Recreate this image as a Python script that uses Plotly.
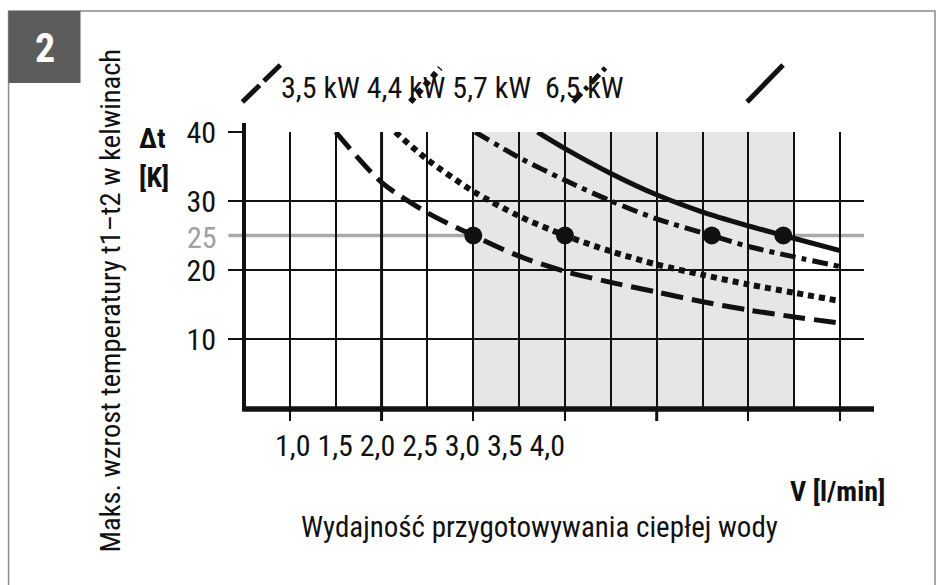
import plotly.graph_objects as go

# ---------------- data ----------------
v_35 = [1.5, 2.0, 2.5, 3.0, 3.5, 4.0, 4.5, 5.0, 5.5, 6.0, 6.5, 7.0]
dt_35 = [40, 32.7, 28.3, 25.0, 22.0, 19.8, 18.2, 16.8, 15.4, 14.2, 13.2, 12.3]

v_44 = [2.15, 2.5, 3.0, 3.5, 4.0, 4.5, 5.0, 5.5, 6.0, 6.5, 7.0]
dt_44 = [40, 36.0, 31.4, 27.8, 25.0, 22.7, 20.8, 19.3, 17.9, 16.7, 15.5]

v_57 = [3.02, 3.5, 4.0, 4.5, 5.0, 5.6, 6.0, 6.5, 7.0]
dt_57 = [40, 36.3, 33.0, 30.0, 27.4, 25.0, 23.4, 21.9, 20.5]

v_65 = [3.7, 4.0, 4.5, 5.0, 5.5, 6.0, 6.38, 7.0]
dt_65 = [40, 37.6, 34.0, 30.9, 28.4, 26.4, 25.0, 22.8]

v_dots = [3.0, 4.0, 5.6, 6.38]
dt_dots = [25, 25, 25, 25]

series_labels = ["3,5 kW", "4,4 kW", "5,7 kW", "6,5 kW"]
x_tick_labels = ["1,0", "1,5", "2,0", "2,5", "3,0", "3,5", "4,0"]
y_tick_vals = [10, 20, 30, 40]
ref_level = 25
shade_range = [3.0, 6.5]
thick_v = [2.0, 5.0]

# ---------------- layout geometry (pixels) ----------------
W, H = 939, 585
L, R, T, B = 243.6, 864.0, 132.0, 408.0


def px(x):
    return (x - L) / (R - L)


def py(y):
    return (B - y) / (B - T)


FONT = "Liberation Sans Narrow, Roboto Condensed, Liberation Sans, sans-serif"
BLACK = "#111111"

fig = go.Figure()

styles = [("22px,9px", 5), ("6px,5px", 6), ("16px,6px,5px,6px", 5), ("solid", 5)]
for (vx, vy), (st, lw), name in zip([(v_35, dt_35), (v_44, dt_44), (v_57, dt_57), (v_65, dt_65)],
                                   styles, series_labels):
    fig.add_trace(go.Scatter(x=vx, y=vy, mode="lines", name=name,
                             line=dict(color=BLACK, width=lw, dash=st,
                                       shape="spline", smoothing=0.8),
                             showlegend=False, hoverinfo="skip"))

fig.add_trace(go.Scatter(x=v_dots, y=dt_dots, mode="markers",
                         marker=dict(color=BLACK, size=18), showlegend=False,
                         hoverinfo="skip"))

shapes = []
shapes.append(dict(type="rect", xref="x", yref="y", x0=shade_range[0], x1=shade_range[1],
                   y0=0, y1=40, fillcolor="#e6e6e6", line=dict(width=0), layer="below"))
shapes.append(dict(type="line", xref="paper", yref="y", x0=px(228), x1=1.0,
                   y0=ref_level, y1=ref_level, line=dict(color="#a9a9a9", width=3.5),
                   layer="between"))
for v in thick_v:
    shapes.append(dict(type="line", xref="x", yref="paper", x0=v, x1=v,
                       y0=py(421), y1=1.0, line=dict(color=BLACK, width=3), layer="between"))
shapes.append(dict(type="line", xref="paper", yref="paper", x0=px(242), x1=px(874),
                   y0=py(409), y1=py(409), line=dict(color=BLACK, width=5.5)))
shapes.append(dict(type="line", xref="paper", yref="paper", x0=px(243.6), x1=px(243.6),
                   y0=py(411), y1=py(123), line=dict(color=BLACK, width=4)))
samples = [((242, 102), (280, 65), "24px,6px", 5),
           ((410, 102), (440, 68), "6px,5px", 6),
           ((573, 102), (608, 65), "12px,5px,4px,5px", 5),
           ((747, 102), (783, 65), "solid", 5)]
for (a, b, d, lw) in samples:
    shapes.append(dict(type="line", xref="paper", yref="paper", x0=px(a[0]), y0=py(a[1]),
                       x1=px(b[0]), y1=py(b[1]), line=dict(color=BLACK, width=lw, dash=d)))
shapes.append(dict(type="rect", xref="paper", yref="paper", x0=px(8), x1=px(935),
                   y0=py(600), y1=py(11), line=dict(color="#8a8a8a", width=1.5),
                   fillcolor="rgba(0,0,0,0)"))
shapes.append(dict(type="rect", xref="paper", yref="paper", x0=px(8), x1=px(80),
                   y0=py(83), y1=py(11), line=dict(width=0), fillcolor="#5c5c5c"))

ann = []


def text(x, y, s, size=28, color=BLACK, xanchor="center", bold=False, angle=0):
    if bold:
        s = "<b>" + s + "</b>"
    ann.append(dict(xref="paper", yref="paper", x=px(x), y=py(y), text=s, showarrow=False,
                    xanchor=xanchor, yanchor="middle", textangle=angle,
                    font=dict(family=FONT, size=size, color=color)))


text(44, 48, "2", size=40, color="white", bold=True)
text(110, 300, "Maks. wzrost temperatury t1\u2013t2 w kelwinach", size=28.5, angle=-90)
text(137, 138, "\u0394t", size=28, xanchor="left", bold=True)
text(137, 177, "[K]", size=28, xanchor="left", bold=True)
text(219, 237, "25", size=30, color="#a0a0a0", xanchor="right")
text(279, 88, " ".join(series_labels[:3]) + "  " + series_labels[3], size=30, xanchor="left")
text(273, 445, " ".join(x_tick_labels), size=30, xanchor="left")
text(887, 491, "V [l/min]", size=28, xanchor="right", bold=True)
text(539, 527, "Wydajno\u015b\u0107 przygotowywania ciep\u0142ej wody", size=29)

fig.update_layout(
    width=W, height=H,
    margin=dict(l=L, r=W - R, t=T, b=H - B, autoexpand=False),
    paper_bgcolor="white", plot_bgcolor="white",
    shapes=shapes, annotations=ann,
    xaxis=dict(range=[0.5, 7.26], tickvals=[1, 2, 3, 4, 5, 6, 7], showticklabels=False,
               ticks="outside", ticklen=12, tickwidth=1.5, tickcolor=BLACK,
               showgrid=True, gridcolor=BLACK, gridwidth=1.5,
               minor=dict(dtick=0.5, tick0=0, showgrid=True, gridcolor=BLACK, gridwidth=1.5),
               zeroline=False, showline=False, fixedrange=True),
    yaxis=dict(range=[0, 40], tickvals=y_tick_vals, ticktext=[str(v) for v in y_tick_vals],
               ticks="outside", ticklen=15, tickwidth=1.5, tickcolor=BLACK,
               showgrid=True, gridcolor=BLACK, gridwidth=1.5,
               tickfont=dict(family=FONT, size=30, color=BLACK), ticklabelstandoff=6,
               zeroline=False, showline=False, fixedrange=True),
)

fig.write_html("out.html", config={"displayModeBar": False},
               post_script="document.body.style.margin='0px';")
